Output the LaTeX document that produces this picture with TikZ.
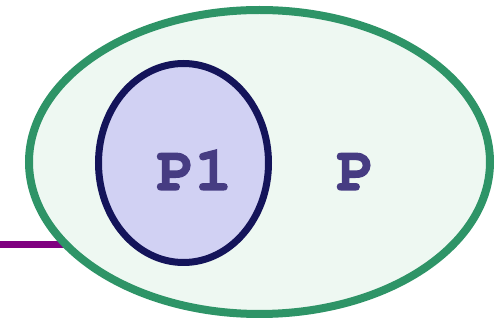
\documentclass[tikz,border=0pt]{standalone}
\usepackage{fontspec}
\setmonofont[BoldFeatures={FakeBold=2}]{TeX Gyre Cursor}
\definecolor{gstroke}{RGB}{46,148,103}
\definecolor{gfill}{RGB}{238,248,242}
\definecolor{pfill}{RGB}{209,209,243}
\definecolor{pstroke}{RGB}{20,20,90}
\definecolor{tcol}{RGB}{70,60,130}
\definecolor{lcol}{RGB}{128,0,128}
\tikzset{
  outerell/.style={draw=gstroke, fill=gfill, line width=8pt},
  innerell/.style={draw=pstroke, fill=pfill, line width=7pt},
  lbl/.style={text=tcol, font=\fontsize{63}{63}\selectfont\ttfamily\bfseries, anchor=base, inner sep=0pt}
}
\begin{document}
\begin{tikzpicture}[x=1pt,y=-1pt]
\useasboundingbox (0,0) rectangle (496,320);
\coordinate (lstart) at (0,244.5);
\coordinate (lend) at (120,244.5);
\draw[lcol, line width=7pt] (lstart) -- (lend);
\draw[outerell] (259.5,162) ellipse [x radius=230.5, y radius=152];
\draw[innerell] (183.5,163) ellipse [x radius=85, y radius=99.5];
\node[lbl] (p1) at (194.5,190) {P1};
\node[lbl] (p) at (355.5,190) {P};
\end{tikzpicture}
\end{document}
